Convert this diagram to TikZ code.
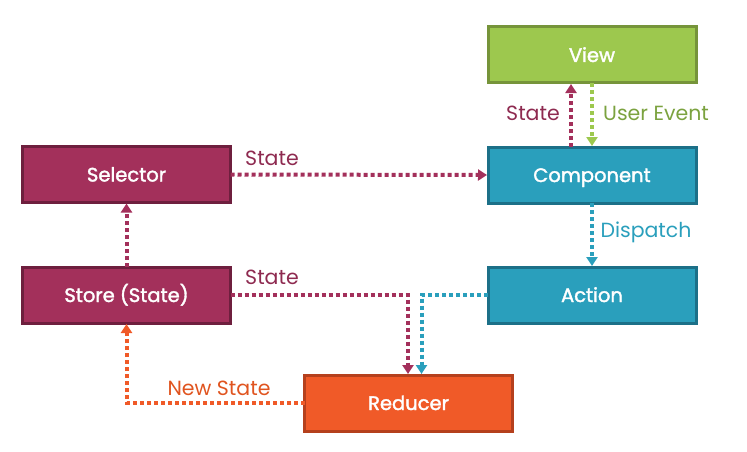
\documentclass[tikz,border=0pt]{standalone}
\usepackage{fontspec}
\setmainfont{Poppins}
\newfontfamily\boxfont{Poppins}[FakeBold=1.8]
\usetikzlibrary{arrows.meta}
\definecolor{viewfill}{HTML}{9DC84E}
\definecolor{viewline}{HTML}{76943A}
\definecolor{blufill}{HTML}{2A9FBC}
\definecolor{bluline}{HTML}{1C7088}
\definecolor{marfill}{HTML}{A3305B}
\definecolor{marline}{HTML}{6E1F3E}
\definecolor{orgfill}{HTML}{F05A28}
\definecolor{orgline}{HTML}{B5401D}
\definecolor{marlbl}{HTML}{8E2A50}
\definecolor{grnlbl}{HTML}{7BA23F}
\definecolor{grnarr}{HTML}{9DC84E}
\definecolor{orglbl}{HTML}{E0541F}
\tikzset{
  box/.style={draw, line width=3pt, minimum width=208pt, minimum height=56pt,
    outer sep=0pt, inner sep=0pt, text height=14pt, text depth=0pt,
    text=white, font=\boxfont\fontsize{19.5}{22}\selectfont},
  flow/.style={line width=4pt, dash pattern=on 4pt off 3pt,
    -{Triangle[width=11pt,length=9pt]}, shorten >=1pt},
  lbl/.style={font=\fontsize{20.5}{23}\selectfont, inner sep=0pt}
}
\begin{document}
\begin{tikzpicture}[x=1pt,y=-1pt]
\useasboundingbox (0,0) rectangle (747,452);
\node[box, fill=viewfill, draw=viewline] (view) at (592,55) {View};
\node[box, fill=blufill, draw=bluline] (comp) at (592,175) {Component};
\node[box, fill=blufill, draw=bluline] (act) at (592,295) {Action};
\node[box, fill=marfill, draw=marline] (sel) at (126.5,174.5) {Selector};
\node[box, fill=marfill, draw=marline] (store) at (126.5,295) {Store (State)};
\node[box, fill=orgfill, draw=orgline] (red) at (408.5,403) {Reducer};

\draw[flow, marfill] (sel.east) -- (comp.west);
\draw[flow, marfill] (store.north) -- (sel.south);
\draw[flow, marfill] ([xshift=-21pt]comp.north) -- ([xshift=-21pt]view.south);
\draw[flow, grnarr] (view.south) -- (comp.north);
\draw[flow, blufill] (comp.south) -- (act.north);
\draw[flow, marfill] (store.east) -| ([xshift=-0.5pt]red.north);
\draw[flow, blufill] (act.west) -| ([xshift=13pt]red.north);
\draw[flow, orgfill] (red.west) -| (store.south);

\node[lbl, text=marlbl] (l1) at (272,158) {State};
\node[lbl, text=marlbl] (l2) at (533,113) {State};
\node[lbl, text=grnlbl] (l3) at (656,113) {User Event};
\node[lbl, text=blufill] (l4) at (646,232) {Dispatch};
\node[lbl, text=marlbl] (l5) at (272,277) {State};
\node[lbl, text=orglbl] (l6) at (219,388) {New State};
\end{tikzpicture}
\end{document}
